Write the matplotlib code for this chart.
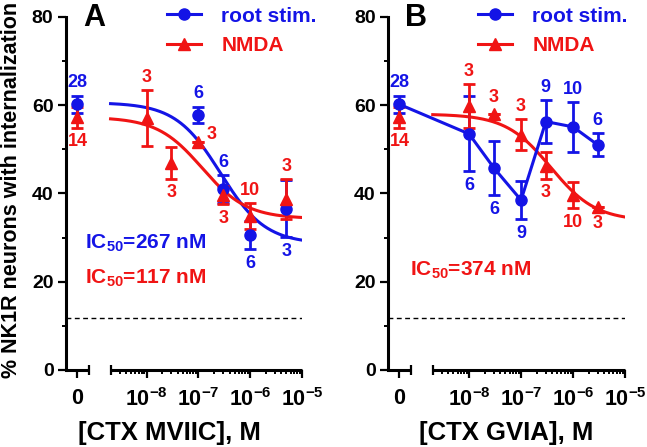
import numpy as np
import matplotlib.pyplot as plt
from matplotlib.lines import Line2D

plt.rcParams['font.family'] = ['Liberation Sans', 'DejaVu Sans']
plt.rcParams['font.weight'] = 'bold'
plt.rcParams['axes.labelweight'] = 'bold'
plt.rcParams['mathtext.fontset'] = 'custom'
plt.rcParams['mathtext.rm'] = 'Liberation Sans:bold'
plt.rcParams['mathtext.it'] = 'Liberation Sans:bold'
plt.rcParams['mathtext.bf'] = 'Liberation Sans:bold'

BLUE = '#1414e6'
RED = '#f01414'

# control (no toxin), plotted at the "0" position of the broken axis
ctrl_root, ctrl_root_err, ctrl_root_n = 60.2, 2.0, '28'
ctrl_nmda, ctrl_nmda_err, ctrl_nmda_n = 57.3, 2.4, '14'

# panel A: CTX MVIIC
a_root_x = [1e-7, 3e-7, 1e-6, 5e-6]
a_root_y = [57.8, 41.0, 30.6, 36.6]
a_root_err = [1.9, 3.2, 3.2, 6.5]
a_root_n = ['6', '6', '6', '3']
a_root_pos = ['a', 'a', 'b', 'b']

a_nmda_x = [1e-8, 3e-8, 1e-7, 3e-7, 1e-6, 5e-6]
a_nmda_y = [57.1, 46.9, 51.7, 39.7, 34.9, 38.8]
a_nmda_err = [6.3, 3.6, 0.0, 2.1, 2.9, 4.5]
a_nmda_n = ['3', '3', '3', '3', '10', '3']
a_nmda_pos = ['a', 'b', 'r', 'b', 'a', 'a']

# panel B: CTX GVIA
b_root_x = [1e-8, 3e-8, 1e-7, 3e-7, 1e-6, 3e-6]
b_root_y = [53.5, 45.8, 38.5, 56.3, 55.1, 51.0]
b_root_err = [8.5, 6.2, 4.3, 4.9, 5.6, 2.6]
b_root_n = ['6', '6', '9', '9', '10', '6']
b_root_pos = ['b', 'b', 'b', 'a', 'a', 'a']

b_nmda_x = [1e-8, 3e-8, 1e-7, 3e-7, 1e-6, 3e-6]
b_nmda_y = [59.8, 58.0, 53.3, 46.3, 39.6, 37.0]
b_nmda_err = [5.0, 0.0, 3.5, 3.0, 2.9, 0.0]
b_nmda_n = ['3', '3', '3', '3', '10', '3']
b_nmda_pos = ['a', 'a', 'a', 'b', 'b', 'b']

# fitted one-site curves: top, bottom, IC50 (M)
a_root_fit = (60.6, 28.6, 2.67e-7)
a_nmda_fit = (57.3, 34.3, 1.17e-7)
b_nmda_fit = (58.0, 33.8, 3.74e-7)

baseline = 11.8

# broken x axis
XMIN, XMAX = 10 ** -9.56, 1e-5
CTRL_POS = 10 ** -9.34
ZERO_END = 10 ** -9.12
LOG_START = 2e-9

fig = plt.figure(figsize=(6.47, 4.47), dpi=100)
axA = fig.add_axes([66 / 647, 77 / 447, 236 / 647, 353 / 447])
axB = fig.add_axes([388 / 647, 77 / 447, 237 / 647, 353 / 447])


def setup_axes(ax):
    ax.set_xscale('log')
    ax.set_xlim(XMIN, XMAX)
    ax.set_ylim(0, 80)
    for s in ['top', 'right', 'bottom']:
        ax.spines[s].set_visible(False)
    ax.spines['left'].set_linewidth(2.2)
    ax.set_yticks([0, 20, 40, 60, 80])
    ax.set_yticks([10, 30, 50, 70], minor=True)
    ax.set_xticks([CTRL_POS, 1e-8, 1e-7, 1e-6, 1e-5])
    ax.set_xticklabels(['0', r'$10^{-8}$', r'$10^{-7}$', r'$10^{-6}$', r'$10^{-5}$'])
    minors = [k * 10.0 ** e for e in range(-9, -5) for k in range(2, 10)]
    ax.set_xticks([m for m in minors if LOG_START * 0.99 < m < XMAX], minor=True)
    ax.xaxis.set_minor_formatter(plt.NullFormatter())
    ax.tick_params(axis='both', which='major', length=6, width=1.6, labelsize=14, pad=3)
    ax.tick_params(axis='both', which='minor', length=3.2, width=1.4)
    ax.tick_params(axis='x', which='major', pad=7, labelsize=15.5)
    # axis segments
    ax.plot([XMIN, ZERO_END], [0, 0], color='k', lw=2.2, clip_on=False,
            solid_capstyle='butt', zorder=5)
    ax.plot([LOG_START, XMAX], [0, 0], color='k', lw=2.2, clip_on=False,
            solid_capstyle='butt', zorder=5)
    ax.plot([ZERO_END, LOG_START], [0, 0], ls='none', marker='|', ms=7, mew=1.6,
            color='k', clip_on=False, zorder=5)
    ax.axvspan(ZERO_END, LOG_START, color='white', lw=0, zorder=2.5)
    ax.axhline(baseline, color='k', lw=1, ls=(0, (3.5, 2.5)), zorder=3)


def draw_points(ax, xs, ys, errs, color, marker, line=False):
    ax.errorbar(xs, ys, yerr=errs, fmt=marker, ls='-' if line else 'none', color=color,
                ms=8, lw=2.2, elinewidth=2, capsize=4.5, capthick=2, zorder=4, clip_on=False)


def label_points(ax, xs, ys, errs, ns, where, color):
    for x, y, e, n, w in zip(xs, ys, errs, ns, where):
        if w == 'a':
            ax.annotate(n, (x, y + e), xytext=(0, 3 if e else 6), textcoords='offset points',
                        ha='center', va='bottom', color=color, fontsize=13)
        elif w == 'b':
            ax.annotate(n, (x, y - e), xytext=(0, -4 if e else -6), textcoords='offset points',
                        ha='center', va='top', color=color, fontsize=13)
        else:
            ax.annotate(n, (x, y), xytext=(6, 5), textcoords='offset points',
                        ha='left', va='center', color=color, fontsize=13)


def fit_curve(ax, params, color):
    top, bottom, ic50 = params
    xx = np.logspace(np.log10(LOG_START), np.log10(XMAX), 300)
    ax.plot(xx, bottom + (top - bottom) / (1 + xx / ic50), color=color, lw=2.2, zorder=3.5)


def legend(ax, xfrac):
    handles = [Line2D([], [], color=BLUE, marker='o', lw=2.2, ms=8),
               Line2D([], [], color=RED, marker='^', lw=2.2, ms=8)]
    ax.legend(handles, ['root stim.', 'NMDA'], loc='upper left', bbox_to_anchor=(xfrac, 0.985),
              bbox_transform=fig.transFigure, frameon=False, fontsize=15, handlelength=1.65,
              handletextpad=0.95, labelspacing=0.5, borderpad=0, borderaxespad=0,
              labelcolor='linecolor')


for ax in (axA, axB):
    setup_axes(ax)

# panel A
fit_curve(axA, a_root_fit, BLUE)
fit_curve(axA, a_nmda_fit, RED)
draw_points(axA, [CTRL_POS] + a_root_x, [ctrl_root] + a_root_y, [ctrl_root_err] + a_root_err, BLUE, 'o')
draw_points(axA, [CTRL_POS] + a_nmda_x, [ctrl_nmda] + a_nmda_y, [ctrl_nmda_err] + a_nmda_err, RED, '^')
label_points(axA, [CTRL_POS] + a_root_x, [ctrl_root] + a_root_y, [ctrl_root_err] + a_root_err,
             [ctrl_root_n] + a_root_n, ['a'] + a_root_pos, BLUE)
label_points(axA, [CTRL_POS] + a_nmda_x, [ctrl_nmda] + a_nmda_y, [ctrl_nmda_err] + a_nmda_err,
             [ctrl_nmda_n] + a_nmda_n, ['b'] + a_nmda_pos, RED)
axA.text(0.08, 0.36, r'IC$_{50}$=267 nM', transform=axA.transAxes, color=BLUE, fontsize=15, va='center')
axA.text(0.08, 0.26, r'IC$_{50}$=117 nM', transform=axA.transAxes, color=RED, fontsize=15, va='center')
axA.set_xlabel('[CTX MVIIC], M', fontsize=18.5)
axA.xaxis.set_label_coords(0.44, -0.145)
legend(axA, 167 / 647)

# panel B
fit_curve(axB, b_nmda_fit, RED)
draw_points(axB, [CTRL_POS] + b_root_x, [ctrl_root] + b_root_y, [ctrl_root_err] + b_root_err, BLUE, 'o', line=True)
draw_points(axB, [CTRL_POS] + b_nmda_x, [ctrl_nmda] + b_nmda_y, [ctrl_nmda_err] + b_nmda_err, RED, '^')
label_points(axB, [CTRL_POS] + b_root_x, [ctrl_root] + b_root_y, [ctrl_root_err] + b_root_err,
             [ctrl_root_n] + b_root_n, ['a'] + b_root_pos, BLUE)
label_points(axB, [CTRL_POS] + b_nmda_x, [ctrl_nmda] + b_nmda_y, [ctrl_nmda_err] + b_nmda_err,
             [ctrl_nmda_n] + b_nmda_n, ['b'] + b_nmda_pos, RED)
axB.text(0.093, 0.283, r'IC$_{50}$=374 nM', transform=axB.transAxes, color=RED, fontsize=15, va='center')
axB.set_xlabel('[CTX GVIA], M', fontsize=18.5)
axB.xaxis.set_label_coords(0.50, -0.145)
legend(axB, 478 / 647)

fig.text(83 / 647, 1 - 3 / 447, 'A', fontsize=22, va='top', ha='left')
fig.text(405 / 647, 1 - 3 / 447, 'B', fontsize=22, va='top', ha='left')
fig.text(12 / 647, 1 - 190 / 447, '% NK1R neurons with internalization', rotation=90,
         fontsize=15.5, ha='center', va='center')

fig.savefig('out.png', dpi=100)
